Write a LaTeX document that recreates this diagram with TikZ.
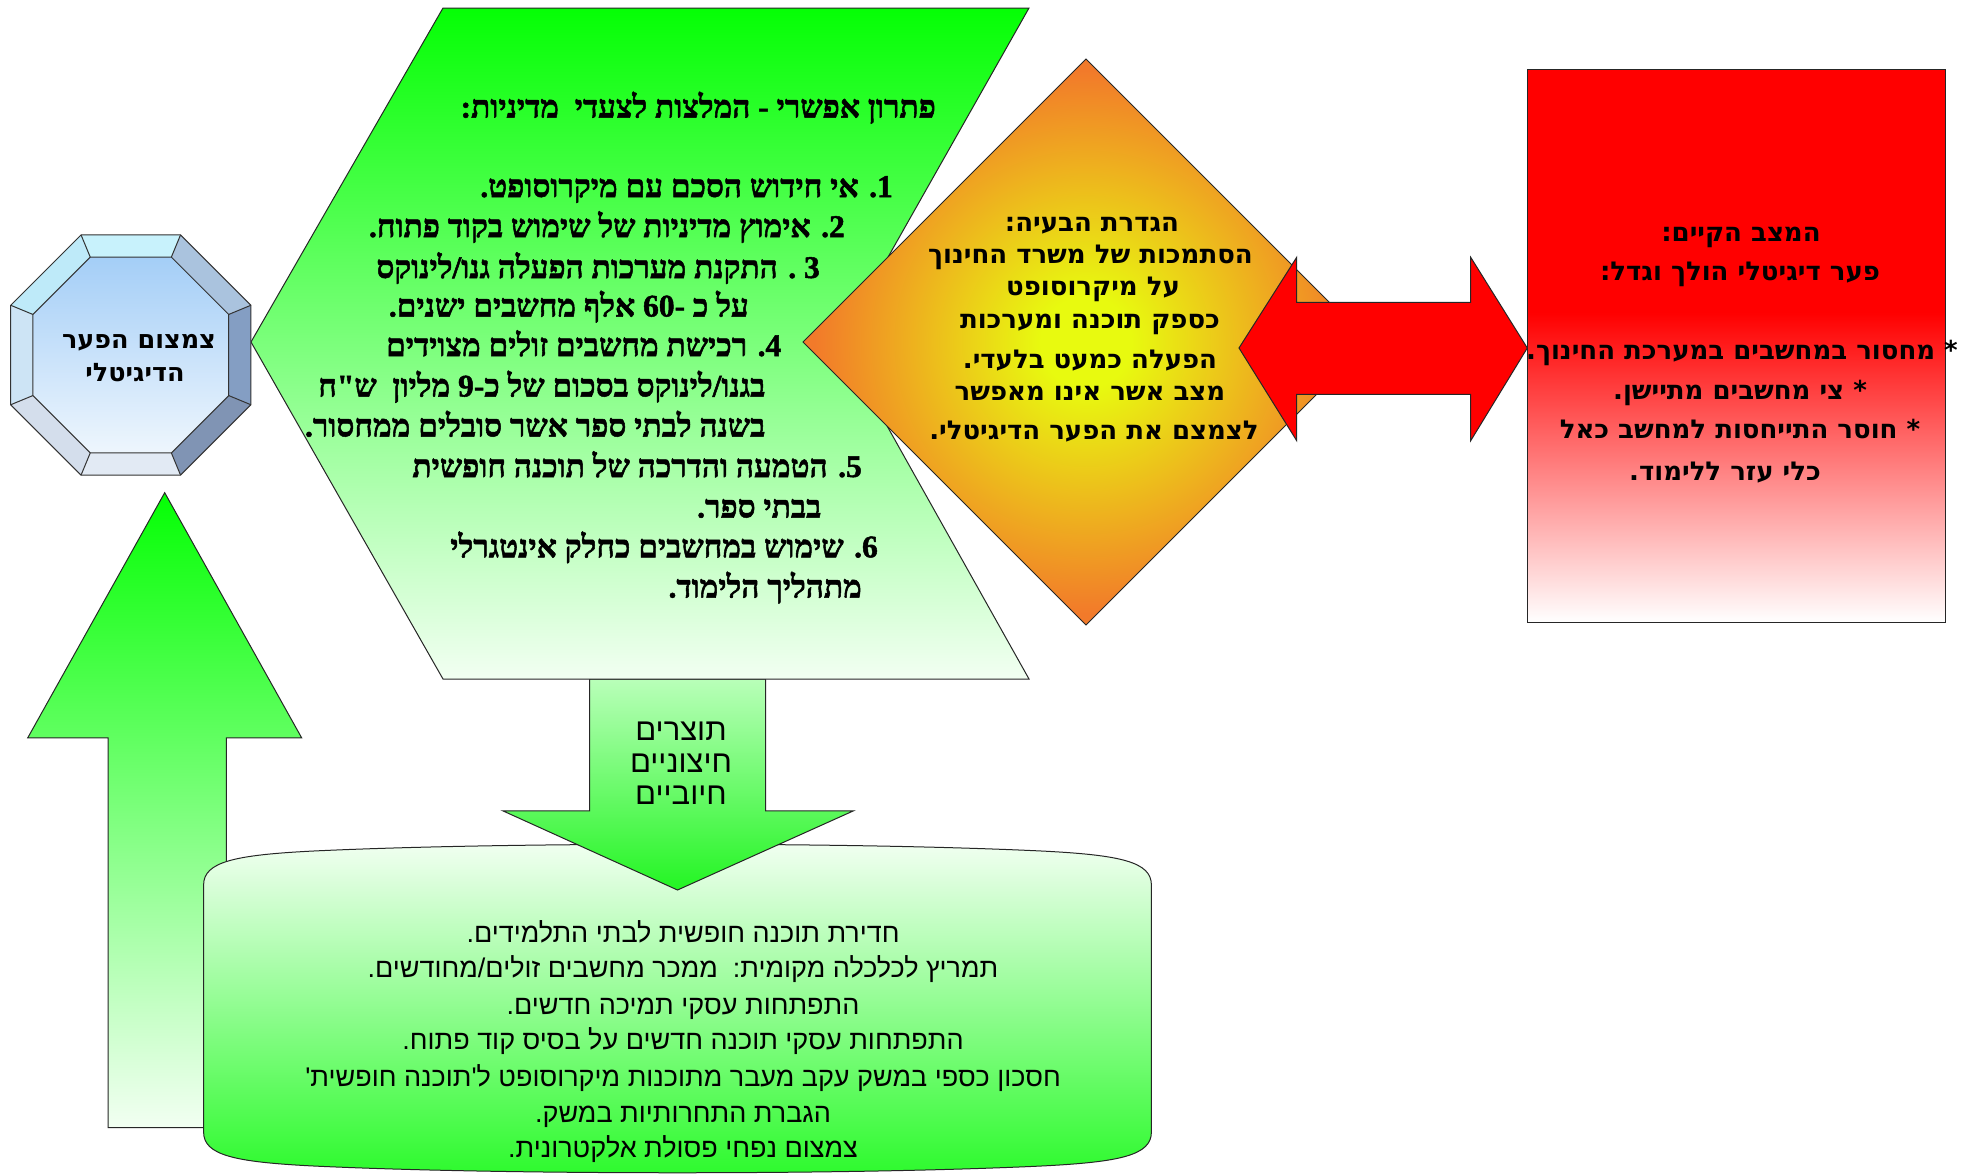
\documentclass[tikz,border=0pt]{standalone}
\usepackage{fontspec}
\TeXXeTstate=1
\newfontfamily\serifheb[Script=Hebrew,BoldFeatures={FakeBold=1.6}]{Liberation Serif}
\newfontfamily\sansheb[Script=Hebrew]{DejaVu Sans}
\newfontfamily\narrowheb[Script=Hebrew]{Liberation Sans}
\newcommand{\hebline}[1]{\beginR #1\endR}
\definecolor{gTop}{RGB}{5,255,5}
\definecolor{gPale}{RGB}{242,255,242}
\definecolor{gCylTop}{RGB}{242,255,242}
\definecolor{gCylBot}{RGB}{45,250,45}
\definecolor{gDownTop}{RGB}{185,255,185}
\definecolor{gDownBot}{RGB}{35,245,35}
\definecolor{dYel}{RGB}{232,250,15}
\definecolor{dOr}{RGB}{242,122,42}
\definecolor{oT}{RGB}{200,242,252}
\definecolor{oTR}{RGB}{170,195,222}
\definecolor{oR}{RGB}{132,158,195}
\definecolor{oBR}{RGB}{128,148,180}
\definecolor{oB}{RGB}{226,234,244}
\definecolor{oBL}{RGB}{212,222,236}
\definecolor{oL}{RGB}{205,228,245}
\definecolor{oTL}{RGB}{190,234,249}
\definecolor{oInTop}{RGB}{164,206,247}
\definecolor{oInBot}{RGB}{238,246,253}
\pgfdeclareverticalshading{redfade}{100bp}{color(0bp)=(white); color(25bp)=(white); color(53bp)=(red); color(100bp)=(red)}
\pgfdeclareradialshading{diashade}{\pgfpoint{0bp}{0bp}}{color(0bp)=(dYel); color(4bp)=(dYel); color(24bp)=(dOr); color(50bp)=(dOr)}
\tikzset{
  outl/.style={draw=black!85, line width=1pt, line join=miter},
  ln/.style={inner sep=0pt, text depth=1pt},
  chev/.style={ln, text height=22pt, anchor=east, font=\serifheb\bfseries\fontsize{31.5}{36}\selectfont},
  dia/.style={ln, text height=24pt, font=\sansheb\bfseries\fontsize{26}{30}\selectfont},
  octtxt/.style={ln, text height=20pt, font=\sansheb\bfseries\fontsize{25.5}{29}\selectfont},
  low/.style={ln, text height=20pt, font=\narrowheb\fontsize{27}{32}\selectfont},
  lowbig/.style={ln, text height=19pt, font=\narrowheb\fontsize{31}{35}\selectfont},
}
\begin{document}
\begin{tikzpicture}[x=1pt,y=-1pt]
\clip (0,0) rectangle (1971,1173);
\fill[white] (0,0) rectangle (1971,1173);

% up arrow
\path[outl, top color=gTop, bottom color=gPale]
  (164.7,492.7) -- (301.7,737.9) -- (226.3,737.9) -- (226.3,1127.5)
  -- (108.1,1127.5) -- (108.1,737.9) -- (27.7,737.9) -- cycle;

% bottom cylinder
\path[outl, top color=gCylTop, bottom color=gCylBot]
  (203.6,885) .. controls (203.6,862) and (233.6,855) .. (313.6,851)
  .. controls (503.6,842) and (851.4,842) .. (1041.4,851)
  .. controls (1121.4,855) and (1151.4,862) .. (1151.4,885)
  -- (1151.4,1132)
  .. controls (1151.4,1155) and (1121.4,1162) .. (1041.4,1166)
  .. controls (851.4,1175) and (503.6,1175) .. (313.6,1166)
  .. controls (233.6,1162) and (203.6,1155) .. (203.6,1132) -- cycle;

% down arrow
\path[outl, top color=gDownTop, bottom color=gDownBot]
  (589.5,679) -- (765.5,679) -- (765.5,810.8) -- (853.5,810.8) -- (677.5,890)
  -- (502.8,810.8) -- (589.5,810.8) -- cycle;

% chevron
\path[outl, top color=gTop, bottom color=gPale]
  (443,8) -- (1029,8) -- (840,342) -- (1029,679) -- (443,679) -- (251,342) -- cycle;

% octagon
\begin{scope}[shift={(130.8,355)}]
  \foreach \ang/\col in {90/oT,45/oTR,0/oR,-45/oBR,-90/oB,-135/oBL,180/oL,135/oTL}{
    \fill[\col] ({-\ang-22.5}:130) -- ({-\ang+22.5}:130) -- ({-\ang+22.5}:106) -- ({-\ang-22.5}:106) -- cycle;
  }
  \path[top color=oInTop, bottom color=oInBot]
    (22.5:106) -- (67.5:106) -- (112.5:106) -- (157.5:106) -- (202.5:106) -- (247.5:106) -- (292.5:106) -- (337.5:106) -- cycle;
  \draw[black!80, line width=1pt]
    (22.5:130) -- (67.5:130) -- (112.5:130) -- (157.5:130) -- (202.5:130) -- (247.5:130) -- (292.5:130) -- (337.5:130) -- cycle;
  \draw[black!80, line width=1pt]
    (22.5:106) -- (67.5:106) -- (112.5:106) -- (157.5:106) -- (202.5:106) -- (247.5:106) -- (292.5:106) -- (337.5:106) -- cycle;
  \foreach \a in {22.5,67.5,...,337.5}{ \draw[black!80, line width=1pt] (\a:106) -- (\a:130); }
\end{scope}

% diamond
\path[outl, shading=diashade] (1086,59) -- (1369,342) -- (1086,625) -- (803,342) -- cycle;

% red box
\path[outl, shading=redfade] (1527.3,69) rectangle (1945.8,622.2);

% double arrow
\path[outl, fill=red]
  (1239,348) -- (1296.7,257.3) -- (1296.7,302.3) -- (1470.7,302.3) -- (1470.7,257.3)
  -- (1527.3,348) -- (1470.7,440.7) -- (1470.7,394.3) -- (1296.7,394.3) -- (1296.7,440.7) -- cycle;

% chevron text
\node[chev] (c0) at (936,107) {\hebline{פתרון אפשרי - המלצות לצעדי\ \ מדיניות:}};
\node[chev] (c1) at (893,186.5) {\hebline{1. אי חידוש הסכם עם מיקרוסופט.}};
\node[chev] (c2) at (845,226.5) {\hebline{2. אימוץ מדיניות של שימוש בקוד פתוח.}};
\node[chev] (c3) at (820,267.5) {\hebline{3 . התקנת מערכות הפעלה גנו/לינוקס}};
\node[chev] (c4) at (749,306) {\hebline{על כ -60 אלף מחשבים ישנים.}};
\node[chev] (c5) at (781.5,345.5) {\hebline{4. רכישת מחשבים זולים מצוידים}};
\node[chev] (c6) at (765.5,386) {\hebline{בגנו/לינוקס בסכום של כ-9 מליון\ \ ש"ח}};
\node[chev] (c7) at (765.5,426) {\hebline{בשנה לבתי ספר אשר סובלים ממחסור.}};
\node[chev] (c8) at (862,466.5) {\hebline{5. הטמעה והדרכה של תוכנה חופשית}};
\node[chev] (c9) at (821.5,507) {\hebline{בבתי ספר.}};
\node[chev] (c10) at (878,546.8) {\hebline{6. שימוש במחשבים כחלק אינטגרלי}};
\node[chev] (c11) at (862,587) {\hebline{מתהליך הלימוד.}};

% diamond text
\node[dia] (d1) at (1092,220) {\hebline{הגדרת הבעיה:}};
\node[dia] (d2) at (1090.5,251.5) {\hebline{הסתמכות של משרד החינוך}};
\node[dia] (d3) at (1093,284) {\hebline{על מיקרוסופט}};
\node[dia] (d4) at (1090,317) {\hebline{כספק תוכנה ומערכות}};
\node[dia] (d5) at (1090,357) {\hebline{הפעלה כמעט בלעדי.}};
\node[dia] (d6) at (1090,388.5) {\hebline{מצב אשר אינו מאפשר}};
\node[dia] (d7) at (1094,427.5) {\hebline{לצמצם את הפער הדיגיטלי.}};

% red box text
\node[dia] (r1) at (1741,230) {\hebline{המצב הקיים:}};
\node[dia] (r2) at (1740,269) {\hebline{פער דיגיטלי הולך וגדל:}};
\node[dia] (r3) at (1742,347.5) {\hebline{* מחסור במחשבים במערכת החינוך.}};
\node[dia] (r4) at (1740,387.5) {\hebline{* צי מחשבים מתיישן.}};
\node[dia] (r5) at (1740,427) {\hebline{* חוסר התייחסות למחשב כאל}};
\node[dia] (r6) at (1725,469) {\hebline{כלי עזר ללימוד.}};

% octagon text
\node[octtxt] (o1) at (139,338.5) {\hebline{צמצום הפער}};
\node[octtxt] (o2) at (135,371.5) {\hebline{הדיגיטלי}};

% down arrow text
\node[lowbig] (a1) at (681,731) {\hebline{תוצרים}};
\node[lowbig] (a2) at (681,763) {\hebline{חיצוניים}};
\node[lowbig] (a3) at (681,795) {\hebline{חיוביים}};

% cylinder text
\node[low] (b1) at (683,933) {\hebline{חדירת תוכנה חופשית לבתי התלמידים.}};
\node[low] (b2) at (683,968.3) {\hebline{תמריץ לכלכלה מקומית:\ \ ממכר מחשבים זולים/מחודשים.}};
\node[low] (b3) at (683,1005) {\hebline{התפתחות עסקי תמיכה חדשים.}};
\node[low] (b4) at (683,1040) {\hebline{התפתחות עסקי תוכנה חדשים על בסיס קוד פתוח.}};
\node[low] (b5) at (683,1076.7) {\hebline{חסכון כספי במשק עקב מעבר מתוכנות מיקרוסופט ל'תוכנה חופשית'}};
\node[low] (b6) at (683,1113.3) {\hebline{הגברת התחרותיות במשק.}};
\node[low] (b7) at (683,1148.3) {\hebline{צמצום נפחי פסולת אלקטרונית.}};
\end{tikzpicture}
\end{document}
